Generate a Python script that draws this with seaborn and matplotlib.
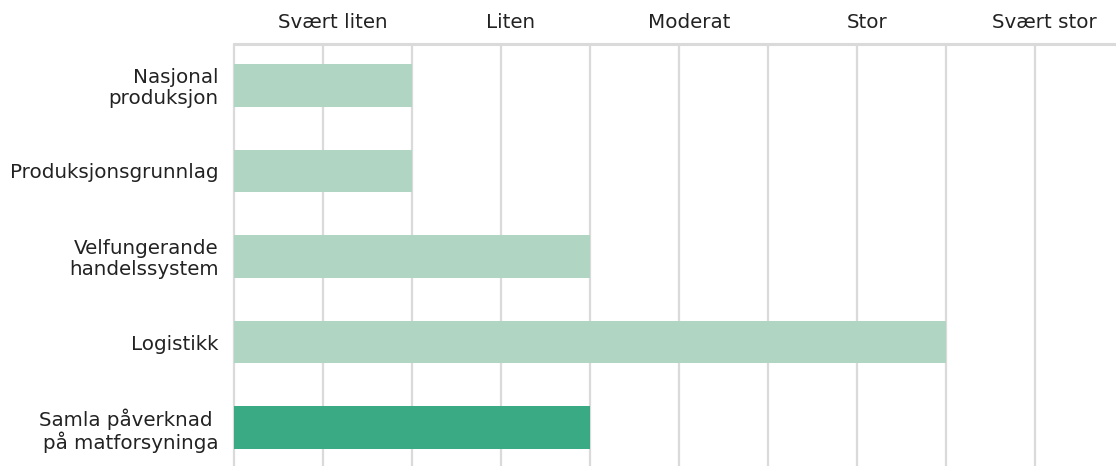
import matplotlib
matplotlib.use("Agg")
import matplotlib.pyplot as plt
import seaborn as sns
import pandas as pd

categories = [
    "Nasjonal\nproduksjon",
    "Produksjonsgrunnlag",
    "Velfungerande\nhandelssystem",
    "Logistikk",
    "Samla påverknad \npå matforsyninga",
]
values = [2, 2, 4, 8, 4]
scale_labels = ["Svært liten", "Liten", "Moderat", "Stor", "Svært stor"]
scale_ticks = [1, 3, 5, 7, 9]
bar_colors = ["#b0d5c3", "#b0d5c3", "#b0d5c3", "#b0d5c3", "#3aaa84"]

df = pd.DataFrame({"kategori": categories, "verdi": values})

sns.set_theme(style="white")
plt.rcParams["font.family"] = ["DejaVu Sans"]

fig = plt.figure(figsize=(11.16, 4.66), dpi=100)
ax = fig.add_axes([234 / 1116, 0, 1 - 234 / 1116, 1 - 44 / 466])

sns.barplot(data=df, x="verdi", y="kategori", hue="kategori", palette=bar_colors,
            legend=False, width=0.5, saturation=1, linewidth=0, ax=ax, zorder=3)

ax.set_xlim(0, 882 / 89)
ax.set_ylim(4.45, -0.485)

for x in range(0, 10):
    ax.axvline(x, color="#dadada", lw=1.6, zorder=1, clip_on=False)
ax.axhline(-0.485, color="#dadada", lw=2.2, zorder=1, clip_on=False)

for s in ax.spines.values():
    s.set_visible(False)

# scale words sit a little right of the odd gridlines
ax.xaxis.tick_top()
ax.set_xticks([t + 0.11 for t in scale_ticks])
ax.set_xticklabels(scale_labels, fontsize=14.3, color="#222222")
ax.tick_params(axis="x", length=0, pad=9)
ax.tick_params(axis="y", length=0, pad=11, labelsize=14.3, labelcolor="#222222")
for lab in ax.get_yticklabels():
    lab.set_linespacing(1.1)
ax.set_xlabel("")
ax.set_ylabel("")

fig.savefig("out.png", dpi=100)
